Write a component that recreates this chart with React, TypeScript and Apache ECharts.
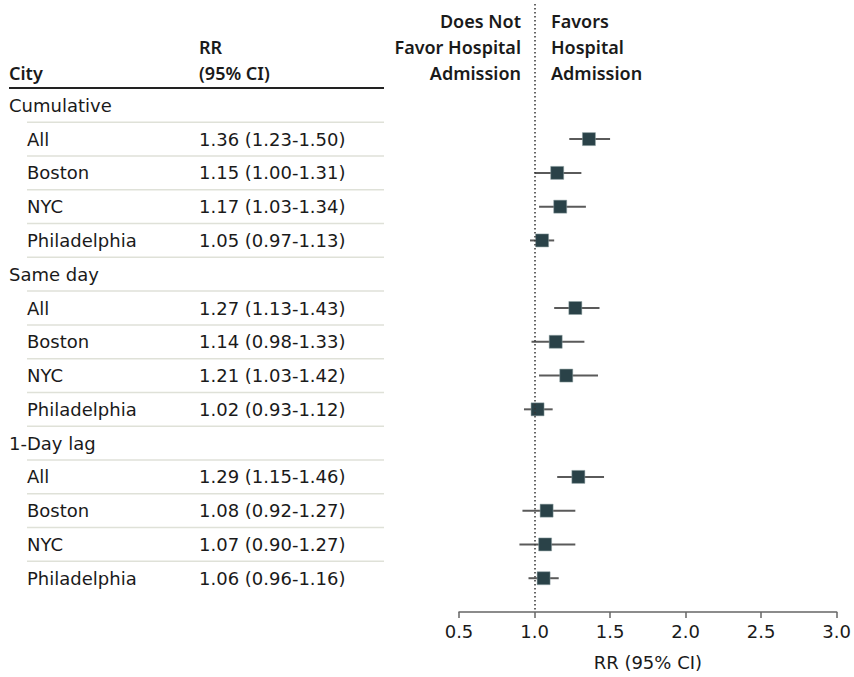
import React, { useEffect, useRef } from "react";
import * as echarts from "echarts";

const rowLabels = ["Cumulative", "All", "Boston", "NYC", "Philadelphia", "Same day", "All", "Boston", "NYC", "Philadelphia", "1-Day lag", "All", "Boston", "NYC", "Philadelphia"];
const isGroup = [true, false, false, false, false, true, false, false, false, false, true, false, false, false, false];
const rrValues = [null, 1.36, 1.15, 1.17, 1.05, null, 1.27, 1.14, 1.21, 1.02, null, 1.29, 1.08, 1.07, 1.06];
const ciLower = [null, 1.23, 1.0, 1.03, 0.97, null, 1.13, 0.98, 1.03, 0.93, null, 1.15, 0.92, 0.9, 0.96];
const ciUpper = [null, 1.5, 1.31, 1.34, 1.13, null, 1.43, 1.33, 1.42, 1.12, null, 1.46, 1.27, 1.27, 1.16];
const leftHeader = ["Does Not", "Favor Hospital", "Admission"];
const rightHeader = ["Favors", "Hospital", "Admission"];

const FONT = "DejaVu Sans";
const HFONT = "Noto Sans";
const FS = 18;
const HFS = 18;
const TXT = "#1a1a1a";

function fmt(v: number) {
  return v.toFixed(2);
}

export default function App() {
  const ref = useRef<HTMLDivElement>(null);
  useEffect(() => {
    if (!ref.current) return;
    const chart = echarts.init(ref.current, undefined, { renderer: "svg" });
    const n = rowLabels.length;
    const yMin = -3;
    const yMax = n;
    const gridTop = 4;
    const gridBottom = 65;

    const ciData = rrValues
      .map((v, i) => (v == null ? null : [ciLower[i], ciUpper[i], i]))
      .filter((d) => d != null);
    const pointData = rrValues
      .map((v, i) => (v == null ? null : [v, i]))
      .filter((d) => d != null);
    const tableData = rowLabels.map((_, i) => [0, i]);
    const hFont = `600 ${HFS}px "${HFONT}"`;

    const option: any = {
      animation: false,
      grid: [
        { left: 459, right: 14, top: gridTop, bottom: gridBottom },
        { left: 0, width: 400, top: gridTop, bottom: gridBottom },
      ],
      xAxis: [
        {
          gridIndex: 0,
          type: "value",
          min: 0.5,
          max: 3.0,
          interval: 0.5,
          axisLine: { show: true, onZero: false, lineStyle: { color: "#666", width: 1.5 } },
          axisTick: { show: true, length: 6, inside: false, lineStyle: { color: "#666", width: 1.5 } },
          splitLine: { show: false },
          axisLabel: {
            color: TXT,
            fontFamily: FONT,
            fontSize: FS,
            margin: 10,
            formatter: (v: number) => v.toFixed(1),
            showMinLabel: true,
            showMaxLabel: true,
          },
          name: "RR (95% CI)",
          nameLocation: "middle",
          nameGap: 41,
          nameTextStyle: { color: TXT, fontFamily: FONT, fontSize: FS },
        },
        { gridIndex: 1, type: "value", min: 0, max: 1, show: false },
      ],
      yAxis: [
        { gridIndex: 0, type: "value", min: yMin, max: yMax, inverse: true, show: false },
        { gridIndex: 1, type: "value", min: yMin, max: yMax, inverse: true, show: false },
      ],
      series: [
        {
          type: "custom",
          xAxisIndex: 1,
          yAxisIndex: 1,
          data: tableData,
          renderItem: (params: any, api: any) => {
            const i = params.dataIndex;
            const p = api.coord([0, i]);
            const y = p[1];
            const next = api.coord([0, i + 0.5]);
            const children: any[] = [
              {
                type: "text",
                x: isGroup[i] ? 9 : 27,
                y,
                style: {
                  text: rowLabels[i],
                  fill: TXT,
                  font: `${FS}px "${FONT}"`,
                  verticalAlign: "middle",
                  align: "left",
                },
              },
            ];
            if (rrValues[i] != null) {
              children.push({
                type: "text",
                x: 199,
                y,
                style: {
                  text: `${fmt(rrValues[i] as number)} (${fmt(ciLower[i] as number)}-${fmt(ciUpper[i] as number)})`,
                  fill: TXT,
                  font: `${FS}px "${FONT}"`,
                  verticalAlign: "middle",
                  align: "left",
                },
              });
            }
            if (i < n - 1) {
              children.push({
                type: "line",
                shape: { x1: 27, y1: next[1], x2: 384, y2: next[1] },
                style: { stroke: "#dfe1d8", lineWidth: 1.5 },
              });
            }
            return { type: "group", children };
          },
        },
        {
          type: "custom",
          xAxisIndex: 0,
          yAxisIndex: 0,
          data: ciData,
          encode: { x: [0, 1], y: 2 },
          renderItem: (params: any, api: any) => {
            const a = api.coord([api.value(0), api.value(2)]);
            const b = api.coord([api.value(1), api.value(2)]);
            return {
              type: "line",
              shape: { x1: a[0], y1: a[1], x2: b[0], y2: b[1] },
              style: { stroke: "#5a5a5a", lineWidth: 2 },
            };
          },
          z: 2,
        },
        {
          type: "scatter",
          xAxisIndex: 0,
          yAxisIndex: 0,
          data: pointData,
          symbol: "rect",
          symbolSize: 13,
          itemStyle: { color: "#2a4248", borderColor: "#8fa0a3", borderWidth: 0.5, opacity: 1 },
          z: 3,
          markLine: {
            silent: true,
            symbol: ["none", "none"],
            label: { show: false },
            lineStyle: { color: "#333", type: [1.5, 2.5], width: 1.5 },
            data: [{ xAxis: 1.0 }],
          },
        },
      ],
      graphic: [
        {
          type: "text",
          x: 9,
          y: 73,
          style: { text: "City", fill: TXT, font: hFont, verticalAlign: "middle" },
        },
        {
          type: "text",
          x: 199,
          y: 47,
          style: { text: "RR", fill: TXT, font: hFont, verticalAlign: "middle" },
        },
        {
          type: "text",
          x: 199,
          y: 73,
          style: { text: "(95% CI)", fill: TXT, font: hFont, verticalAlign: "middle" },
        },
        {
          type: "line",
          shape: { x1: 9, y1: 88, x2: 384, y2: 88 },
          style: { stroke: "#222", lineWidth: 2 },
        },
        ...leftHeader.map((t, k) => ({
          type: "text",
          x: 521,
          y: 21 + 26 * k,
          style: { text: t, fill: TXT, font: hFont, align: "right", verticalAlign: "middle" },
        })),
        ...rightHeader.map((t, k) => ({
          type: "text",
          x: 551,
          y: 21 + 26 * k,
          style: { text: t, fill: TXT, font: hFont, align: "left", verticalAlign: "middle" },
        })),
      ],
    };
    chart.setOption(option);
    return () => chart.dispose();
  }, []);
  return <div ref={ref} style={{ position: "absolute", left: 0, top: 0, width: 854, height: 677, background: "#fff" }} />;
}
